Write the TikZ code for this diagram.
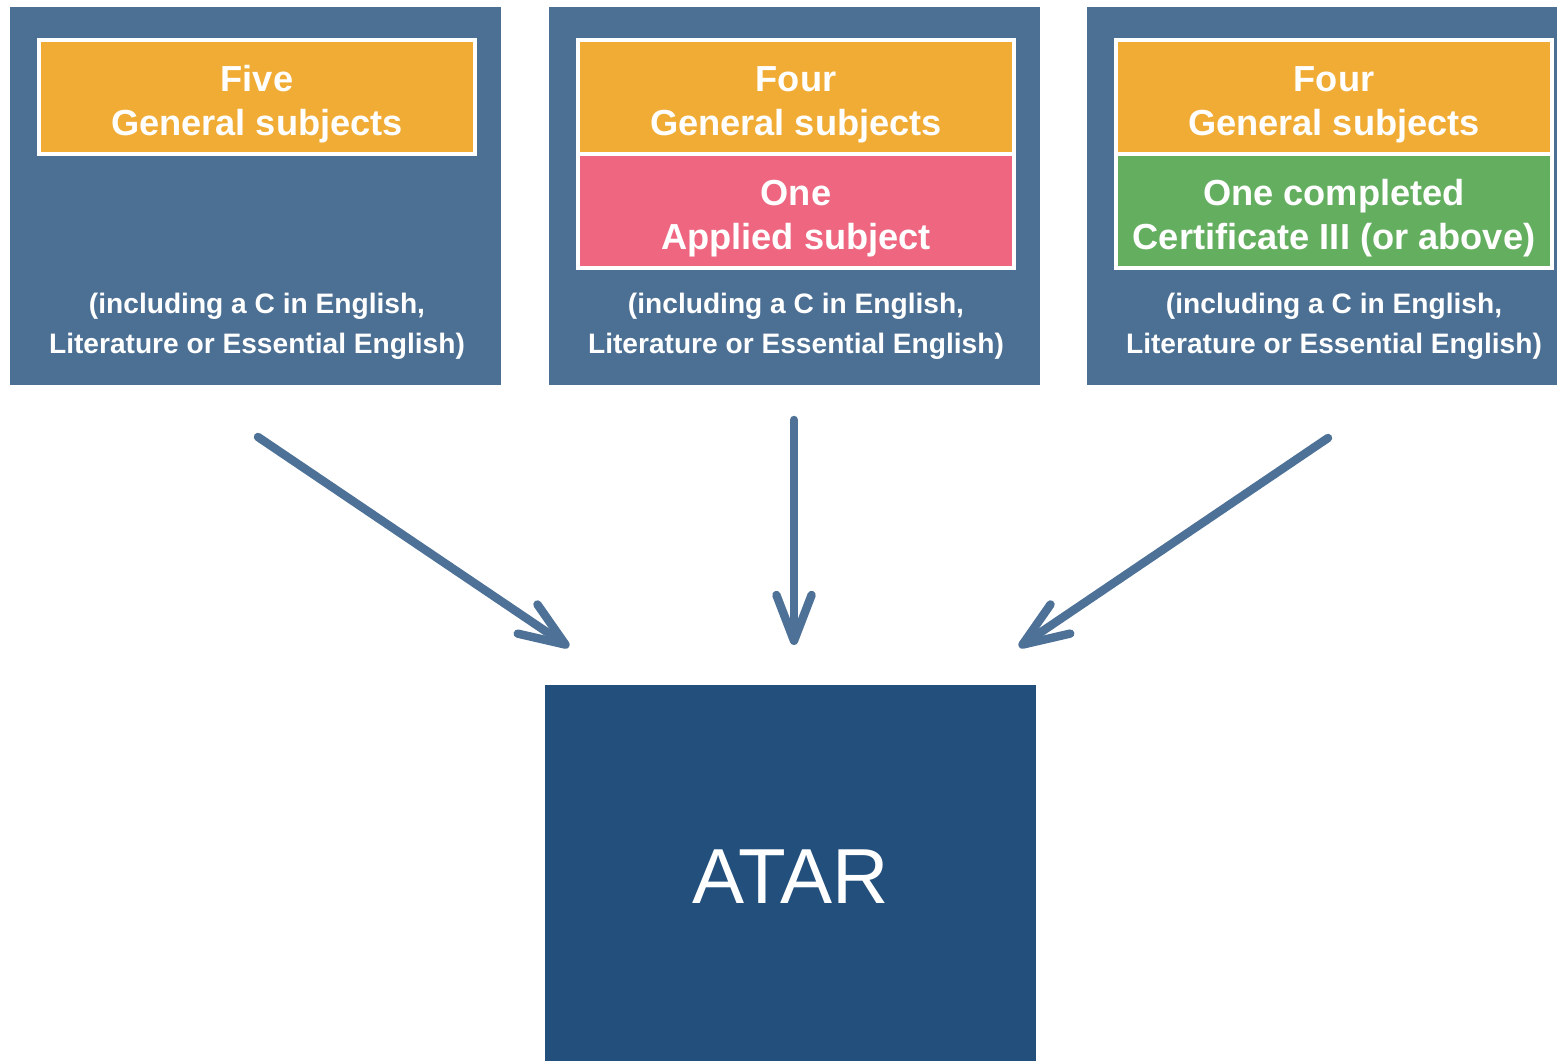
\documentclass[tikz,border=0pt]{standalone}
\usepackage{fontspec}
\setmainfont{Liberation Sans}
\usetikzlibrary{arrows.meta}
\definecolor{panelblue}{HTML}{4C6F94}
\definecolor{atarblue}{HTML}{224F7B}
\definecolor{arrowblue}{HTML}{4E7297}
\definecolor{subjorange}{HTML}{F0AC35}
\definecolor{subjpink}{HTML}{EE6680}
\definecolor{subjgreen}{HTML}{64AE5F}
\begin{document}
\begin{tikzpicture}[x=0.01cm,y=-0.01cm]
			\tikzstyle{every node}+=[inner sep=0pt]
			\tikzstyle{panel}=[fill=panelblue, minimum width=4.91cm, minimum height=3.78cm]
			\tikzstyle{subj}=[draw=white, line width=1pt, minimum width=4.36cm, minimum height=1.14cm, text=white, align=center, font=\bfseries\fontsize{10.3}{12.7}\selectfont]
			\tikzstyle{note}=[text=white, align=center, font=\bfseries\fontsize{8}{11.3}\selectfont]
			\tikzstyle{link}=[draw=arrowblue, line width=2.4pt, line cap=round, -{Straight Barb[length=13pt,width=10pt,round]}]
			\useasboundingbox (0,0) rectangle (1557,1061);
			% three panels
			\node [panel] (panelA) at (255.5,196) {};
			\node [panel] (panelB) at (794.5,196) {};
			\node [panel] (panelC) at (1332.5,196) {};
			\node [subj, fill=subjorange] (genA) at (257,97) {\rule{0pt}{11.5pt}Five\\General subjects};
			\node [subj, fill=subjorange] (genB) at (796,97) {\rule{0pt}{11.5pt}Four\\General subjects};
			\node [subj, fill=subjpink] (applB) at (796,211) {\rule{0pt}{11.5pt}One\\Applied subject};
			\node [subj, fill=subjorange] (genC) at (1334,97) {\rule{0pt}{11.5pt}Four\\General subjects};
			\node [subj, fill=subjgreen] (certC) at (1334,211) {\rule{0pt}{11.5pt}One completed\\Certificate III (or above)};
			\node [note] (noteA) at (257,326) {(including a C in English,\\Literature or Essential English)};
			\node [note] (noteB) at (796,326) {(including a C in English,\\Literature or Essential English)};
			\node [note] (noteC) at (1334,326) {(including a C in English,\\Literature or Essential English)};
			% result
			\node [fill=atarblue, minimum width=4.91cm, minimum height=3.84cm, text=white, font=\fontsize{22.2}{26}\selectfont] (atar) at (790.5,877) {ATAR};
			% arrows
			\coordinate (fromA) at (258,437);
			\coordinate (toA) at (569,647);
			\coordinate (fromB) at (794,420);
			\coordinate (toB) at (794,645);
			\coordinate (fromC) at (1328,438);
			\coordinate (toC) at (1019,647);
			\draw [link] (fromA) -- (toA);
			\draw [link] (fromB) -- (toB);
			\draw [link] (fromC) -- (toC);
\end{tikzpicture}
\end{document}
